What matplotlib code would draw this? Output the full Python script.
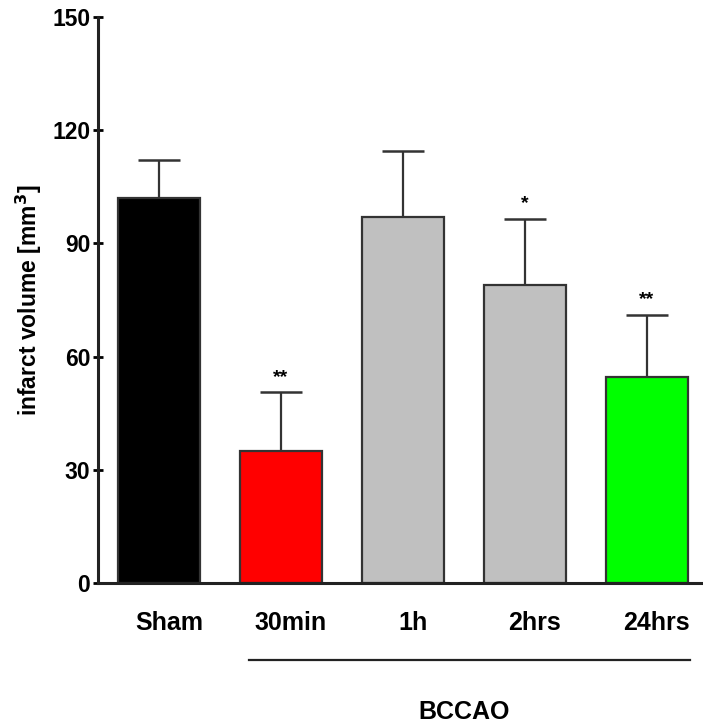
import matplotlib
matplotlib.use('Agg')
import matplotlib.pyplot as plt
import matplotlib.transforms as mtransforms

plt.rcParams['font.family'] = ['Liberation Sans', 'DejaVu Sans']
plt.rcParams['font.weight'] = 'bold'
plt.rcParams['axes.labelweight'] = 'bold'

groups = ['Sham', '30min', '1h', '2hrs', '24hrs']
volume = [102, 35, 97, 79, 54.5]
sem = [10, 15.5, 17.5, 17.5, 16.5]
stars = ['', '**', '', '*', '**']
colors = ['#000000', '#ff0000', '#c0c0c0', '#c0c0c0', '#00ff00']

fig = plt.figure(figsize=(7.03, 7.28), dpi=100)
ax = fig.add_axes([0.1394, 0.1992, 0.8606, 0.7775])

x = list(range(len(groups)))
ax.bar(x, volume, width=0.67, color=colors, edgecolor='#333333', linewidth=1.6, zorder=2)
ax.errorbar(x, volume, yerr=[[0] * len(sem), sem], fmt='none', ecolor='#333333',
            elinewidth=1.6, capsize=15, capthick=1.8, zorder=1)

for i, s in enumerate(stars):
    if s:
        ax.text(i, volume[i] + sem[i] + 4, s, ha='center', va='center', fontsize=14)

ax.set_xlim(-0.5, 4.46)
ax.set_ylim(0, 150)
ax.set_yticks([0, 30, 60, 90, 120, 150])
ax.set_xticks(x)
ax.set_xticklabels(groups, fontsize=18)
ax.tick_params(axis='x', length=0, pad=20)
ax.tick_params(axis='y', direction='inout', length=7, width=2, labelsize=16.5, pad=2)

shift = mtransforms.ScaledTranslation(10 / 100, 0, fig.dpi_scale_trans)
for lab in ax.get_xticklabels():
    lab.set_transform(lab.get_transform() + shift)

for side in ['top', 'right']:
    ax.spines[side].set_visible(False)
for side in ['left', 'bottom']:
    ax.spines[side].set_linewidth(2.2)
    ax.spines[side].set_color('#222222')

ax.set_ylabel('infarct volume [mm$^\\mathbf{3}$]', fontsize=16.5, labelpad=6)

# BCCAO bracket under the treated groups
trans = mtransforms.blended_transform_factory(ax.transData, ax.transAxes)
ax.plot([0.74, 4.35], [-0.136, -0.136], color='#222222', linewidth=1.6,
        transform=trans, clip_on=False)
ax.text(2.5, -0.228, 'BCCAO', transform=trans, ha='center', va='center', fontsize=18)

fig.savefig('out.png', dpi=100)
